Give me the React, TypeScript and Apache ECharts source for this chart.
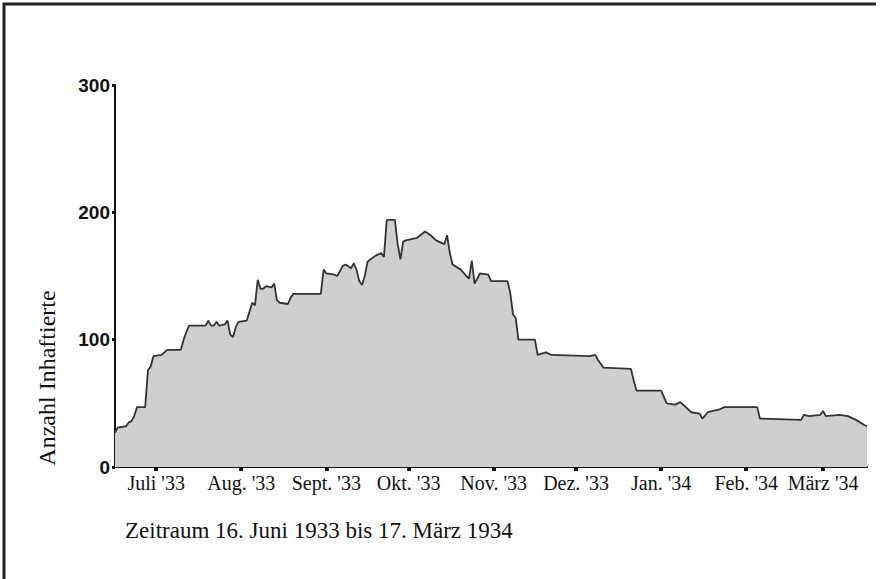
import React, { useEffect, useRef } from "react";
import * as echarts from "echarts";

// Day offsets (from 16 June 1933) of the line's vertices and values
const vertexDays: number[] = [
  0, 1, 4, 5, 6, 7, 8, 11, 12, 13, 14, 17, 19, 24, 25, 26, 27, 33, 34, 35, 36, 37, 38, 40, 41, 42, 43, 44, 45, 48,
  49, 50, 51, 52, 53, 54, 55, 57, 58, 59, 60, 63, 64, 65, 75, 76, 77, 80, 81, 83, 84, 86, 87, 88, 89, 90, 91, 92, 93,
  95, 97, 98, 99, 102, 103, 104, 105, 106, 110, 113, 115, 117, 120, 121, 122, 123, 126, 128, 129, 130, 131, 133, 136,
  137, 143, 144, 145, 146, 147, 153, 154, 157, 159, 173, 175, 176, 178, 188, 189, 190, 199, 201, 204, 206, 207, 210,
  213, 214, 216, 220, 222, 234, 235, 250, 251, 253, 257, 258, 259, 264, 267, 270, 273, 274,
];
const vertexValues: number[] = [
  27, 31, 32, 35, 36, 40, 47, 47, 76, 79, 87, 88, 92, 92, 100, 106, 111, 111, 115, 111, 111, 114, 111, 112, 115, 104,
  102, 110, 114, 115, 122, 129, 127, 147, 140, 140, 142, 141, 144, 131, 129, 128, 133, 136, 136, 155, 152, 151, 150,
  158, 159, 156, 160, 155, 146, 143, 150, 161, 163, 166, 168, 165, 194, 194, 175, 163, 177, 178, 180, 185, 182, 178,
  175, 182, 168, 159, 155, 150, 148, 162, 144, 152, 151, 146, 146, 137, 120, 117, 100, 100, 88, 90, 88, 87, 88, 84,
  78, 77, 68, 60, 60, 50, 49, 51, 49, 43, 42, 38, 43, 45, 47, 47, 38, 37, 41, 40, 41, 44, 40, 41, 40, 37, 33, 32,
];

const START = { y: 1933, m: 5, d: 16 };
const TOTAL_DAYS = 274;
const monthLabels: Record<string, string> = {
  "1933-07": "Juli '33",
  "1933-08": "Aug. '33",
  "1933-09": "Sept. '33",
  "1933-10": "Okt. '33",
  "1933-11": "Nov. '33",
  "1933-12": "Dez. '33",
  "1934-01": "Jan. '34",
  "1934-02": "Feb. '34",
  "1934-03": "März '34",
};
const yTicks = [0, 100, 200, 300];
const yAxisTitle = "Anzahl Inhaftierte";
const footnote = "Zeitraum 16. Juni 1933 bis 17. März 1934";

const pad = (n: number) => (n < 10 ? "0" + n : "" + n);
const categories: string[] = [];
for (let i = 0; i <= TOTAL_DAYS; i++) {
  const dt = new Date(Date.UTC(START.y, START.m, START.d + i));
  categories.push(dt.getUTCFullYear() + "-" + pad(dt.getUTCMonth() + 1) + "-" + pad(dt.getUTCDate()));
}
const isMonthStart = (_i: number, v: string) => typeof v === "string" && v.slice(8) === "01";

export default function App() {
  const ref = useRef<HTMLDivElement>(null);
  useEffect(() => {
    if (!ref.current) return;
    const chart = echarts.init(ref.current, undefined, { renderer: "svg" });
    chart.setOption({
      animation: false,
      backgroundColor: "#ffffff",
      grid: { left: 115, right: 13, top: 85, bottom: 112, containLabel: false },
      xAxis: {
        type: "category",
        data: categories,
        boundaryGap: false,
        axisLine: { lineStyle: { color: "#111", width: 2 } },
        axisTick: {
          interval: isMonthStart,
          length: 4,
          inside: false,
          lineStyle: { color: "#111", width: 4 },
        },
        axisLabel: {
          interval: isMonthStart,
          formatter: (v: string) => monthLabels[v.slice(0, 7)] || "",
          color: "#111",
          fontFamily: "Liberation Serif",
          fontSize: 20,
          margin: 6,
        },
        splitLine: { show: false },
      },
      yAxis: {
        type: "value",
        min: yTicks[0],
        max: yTicks[yTicks.length - 1],
        interval: 100,
        axisLine: { show: true, lineStyle: { color: "#111", width: 2 } },
        axisTick: { show: true, length: 3, lineStyle: { color: "#111", width: 3 } },
        axisLabel: {
          color: "#111",
          fontFamily: "Liberation Sans",
          fontWeight: "bold",
          fontSize: 19,
          margin: 5,
        },
        splitLine: { show: false },
      },
      series: [
        {
          type: "line",
          data: vertexDays.map((d, i) => [d, vertexValues[i]]),
          symbol: "none",
          smooth: false,
          lineStyle: { color: "#333333", width: 1.8 },
          areaStyle: { color: "#cfcfcf", opacity: 1 },
        },
      ],
      graphic: [
        { type: "line", shape: { x1: 3, y1: 4, x2: 876, y2: 4 }, style: { stroke: "#222", lineWidth: 3 } },
        { type: "line", shape: { x1: 4, y1: 3, x2: 4, y2: 579 }, style: { stroke: "#222", lineWidth: 3 } },
        {
          type: "text",
          x: 47,
          y: 378,
          rotation: Math.PI / 2,
          style: {
            text: yAxisTitle,
            fontFamily: "Liberation Serif",
            fontSize: 24,
            fill: "#111",
            align: "center",
            verticalAlign: "middle",
          },
        },
        {
          type: "text",
          x: 125,
          y: 530,
          style: {
            text: footnote,
            fontFamily: "Liberation Serif",
            fontSize: 23,
            fill: "#111",
            align: "left",
            verticalAlign: "middle",
          },
        },
      ],
    });
    return () => chart.dispose();
  }, []);
  return (
    <div
      ref={ref}
      style={{ position: "fixed", left: 0, top: 0, width: 880, height: 579, background: "#fff" }}
    />
  );
}
